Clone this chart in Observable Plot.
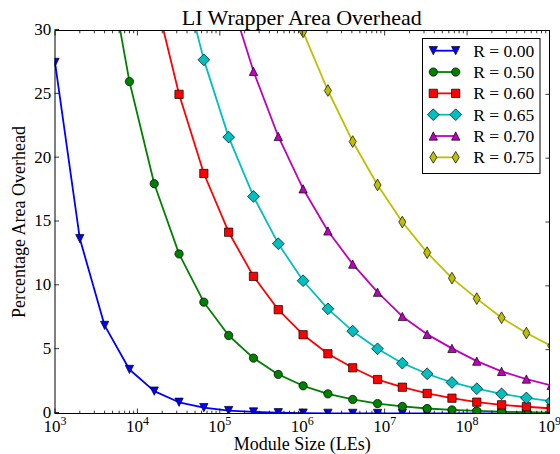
<!DOCTYPE html>
<html><head><meta charset="utf-8">
<script src="https://cdn.jsdelivr.net/npm/d3@7"></script>
<script src="https://cdn.jsdelivr.net/npm/@observablehq/plot@0.6"></script>
<style>
body{margin:0;background:#fff;}
#wrap{position:relative;width:560px;height:454px;font-family:"Liberation Serif",serif;color:#000;}
#title{position:relative;height:12px;box-sizing:border-box;padding:6.6px 11px 0 54.5px;line-height:22px;font-size:22px;text-align:center;white-space:nowrap;overflow:visible;z-index:2;}
#chart svg{display:block;overflow:visible;}
#legend{position:absolute;left:0;top:0;pointer-events:none;z-index:3;}
</style></head><body>
<div id="wrap"><div id="title">LI Wrapper Area Overhead</div><div id="chart"></div></div>
<script>
// Module sizes (LEs)
const moduleSizes = [1e3, 2e3, 4e3, 8e3, 16e3, 32e3, 64e3, 128e3, 256e3, 512e3,
  1.024e6, 2.048e6, 4.096e6, 8.192e6, 16.384e6, 32.768e6, 65.536e6, 131.072e6,
  262.144e6, 524.288e6, 1048.576e6];
// Percentage area overhead per Rent exponent
const r000 = [27.5, 13.7, 6.9, 3.45, 1.75, 0.88, 0.46, 0.23, 0.12, 0.06, 0.03, 0.015, 0.008, 0.004, 0.002, 0.001, 0.0005, 0.0003, 0.0001, 0.0001, 0.00005];
const r050 = [null, null, 36.8, 26.0, 18.0, 12.5, 8.72, 6.11, 4.34, 3.06, 2.17, 1.54, 1.1, 0.78, 0.55, 0.39, 0.28, 0.2, 0.14, 0.1, 0.07];
const r060 = [null, null, null, null, 33.0, 25.0, 18.8, 14.2, 10.74, 8.13, 6.17, 4.68, 3.58, 2.66, 2.06, 1.57, 1.2, 0.89, 0.68, 0.53, 0.4];
const r065 = [null, null, null, null, null, 35.3, 27.7, 21.65, 17.0, 13.3, 10.4, 8.2, 6.45, 5.07, 3.94, 3.11, 2.43, 1.94, 1.54, 1.22, 0.97];
const r070 = [null, null, null, null, null, null, null, 33.0, 26.8, 21.7, 17.6, 14.3, 11.7, 9.5, 7.6, 6.2, 5.1, 4.1, 3.3, 2.7, 2.2];
const r075 = [null, null, null, null, null, null, null, null, null, 35.5, 29.9, 25.3, 21.3, 17.9, 15.0, 12.6, 10.6, 9.0, 7.5, 6.3, 5.3];

const seriesNames = ["R = 0.00", "R = 0.50", "R = 0.60", "R = 0.65", "R = 0.70", "R = 0.75"];
const seriesValues = [r000, r050, r060, r065, r070, r075];
const seriesColors = ["#0000ff", "#008000", "#ff0000", "#00bfbf", "#bf00bf", "#bfbf00"];

const xMajorTicks = [1e3, 1e4, 1e5, 1e6, 1e7, 1e8, 1e9];
const xMajorLabels = ["3", "4", "5", "6", "7", "8", "9"];
const yTicks = [0, 5, 10, 15, 20, 25, 30];

const xMinorTicks = [];
for (const base of [1e3, 1e4, 1e5, 1e6, 1e7, 1e8]) for (let m = 2; m <= 9; m++) xMinorTicks.push(m * base);

// marker shapes (matplotlib-like)
const half = (size) => Math.sqrt(size / Math.PI);
const symTriDown = {draw(c, size) {const s = half(size); c.moveTo(0, s); c.lineTo(-s, -s); c.lineTo(s, -s); c.closePath();}};
const symTriUp = {draw(c, size) {const s = half(size); c.moveTo(0, -s); c.lineTo(-s, s); c.lineTo(s, s); c.closePath();}};
const symCircle = {draw(c, size) {const s = half(size); c.moveTo(s, 0); c.arc(0, 0, s, 0, 2 * Math.PI); c.closePath();}};
const symSquare = {draw(c, size) {const s = half(size); c.moveTo(-s, -s); c.lineTo(s, -s); c.lineTo(s, s); c.lineTo(-s, s); c.closePath();}};
const symDiamond = {draw(c, size) {const d = half(size) * Math.SQRT2; c.moveTo(0, -d); c.lineTo(d, 0); c.lineTo(0, d); c.lineTo(-d, 0); c.closePath();}};
const symThinDiamond = {draw(c, size) {const d = half(size) * Math.SQRT2; c.moveTo(0, -d); c.lineTo(0.6 * d, 0); c.lineTo(0, d); c.lineTo(-0.6 * d, 0); c.closePath();}};
const seriesSymbols = [symTriDown, symCircle, symSquare, symDiamond, symTriUp, symThinDiamond];
const markerR = 4.15;

const labelMap = new Map(xMajorTicks.map((t, i) => [t, "10|" + xMajorLabels[i]]));

const marks = [];
seriesNames.forEach((name, i) => {
  const rows = moduleSizes.map((x, k) => ({x, y: seriesValues[i][k], series: name}));
  marks.push(Plot.line(rows, {x: "x", y: "y", stroke: seriesColors[i], strokeWidth: 1.8, clip: true}));
  marks.push(Plot.dot(rows.filter(d => d.y != null), {x: "x", y: "y", r: markerR, symbol: seriesSymbols[i], fill: seriesColors[i], stroke: "black", strokeWidth: 0.7, clip: true}));
});

marks.push(
  Plot.axisX(xMinorTicks, {anchor: "bottom", tickSize: -2.3, tickFormat: () => "", label: null, strokeWidth: 0.8}),
  Plot.axisX(xMinorTicks, {anchor: "top", tickSize: -2.3, tickFormat: () => "", label: null, strokeWidth: 0.8}),
  Plot.axisX(xMajorTicks, {anchor: "bottom", tickSize: -4.5, tickPadding: 10.5, tickFormat: d => labelMap.get(d), label: null, strokeWidth: 0.8, fontSize: 17}),
  Plot.axisX(xMajorTicks, {anchor: "top", tickSize: -4.5, tickFormat: () => "", label: null, strokeWidth: 0.8}),
  Plot.axisY(yTicks, {anchor: "left", tickSize: -4.5, tickPadding: 8.3, label: null, strokeWidth: 0.8, fontSize: 17, dy: -1}),
  Plot.axisY(yTicks, {anchor: "right", tickSize: -4.5, tickFormat: () => "", label: null, strokeWidth: 0.8}),
  Plot.frame({stroke: "black", strokeWidth: 1}),
  Plot.text(["Module Size (LEs)"], {text: d => d, frameAnchor: "bottom", textAnchor: "middle", lineAnchor: "middle", dy: 31.2, fontSize: 18}),
  Plot.text(["Percentage Area Overhead"], {text: d => d, frameAnchor: "left", textAnchor: "middle", lineAnchor: "middle", rotate: -90, dx: -35.3, fontSize: 18})
);

const chart = Plot.plot({
  width: 560,
  height: 442,
  marginLeft: 54.5,
  marginRight: 11,
  marginTop: 18,
  marginBottom: 41,
  style: {fontFamily: "'Liberation Serif', serif", fontSize: "17px", background: "transparent", color: "black", overflow: "visible"},
  x: {type: "log", domain: [1e3, 1e9], axis: null, label: null},
  y: {domain: [0, 30], axis: null, label: null},
  marks
});
document.getElementById("chart").appendChild(chart);

// superscript exponents for 10^n tick labels
d3.select(chart).selectAll("text").each(function () {
  const t = this.textContent;
  if (t.includes("|")) {
    const [b, e] = t.split("|");
    const sel = d3.select(this);
    sel.text(b);
    sel.append("tspan").attr("dy", -6.5).attr("font-size", 12).text(e);
  }
});

// legend
const lg = d3.select("#wrap").append("svg").attr("id", "legend").attr("width", 560).attr("height", 454);
lg.append("rect").attr("x", 422.5).attr("y", 38.5).attr("width", 117.5).attr("height", 135)
  .attr("fill", "white").attr("stroke", "black").attr("stroke-width", 1);
seriesNames.forEach((name, i) => {
  const yy = 50.7 + i * 21.33;
  lg.append("line").attr("x1", 433.3).attr("x2", 455.7).attr("y1", yy).attr("y2", yy)
    .attr("stroke", seriesColors[i]).attr("stroke-width", 1.8);
  for (const xx of [433.3, 455.7]) {
    const p = d3.path();
    seriesSymbols[i].draw(p, markerR * markerR * Math.PI);
    lg.append("path").attr("d", p.toString()).attr("transform", `translate(${xx},${yy})`)
      .attr("fill", seriesColors[i]).attr("stroke", "black").attr("stroke-width", 0.7);
  }
  lg.append("text").attr("x", 473.3).attr("y", yy + 5.9).attr("font-size", 17.5)
    .attr("font-family", "'Liberation Serif', serif").attr("fill", "black").text(name);
});
</script>
</body></html>
